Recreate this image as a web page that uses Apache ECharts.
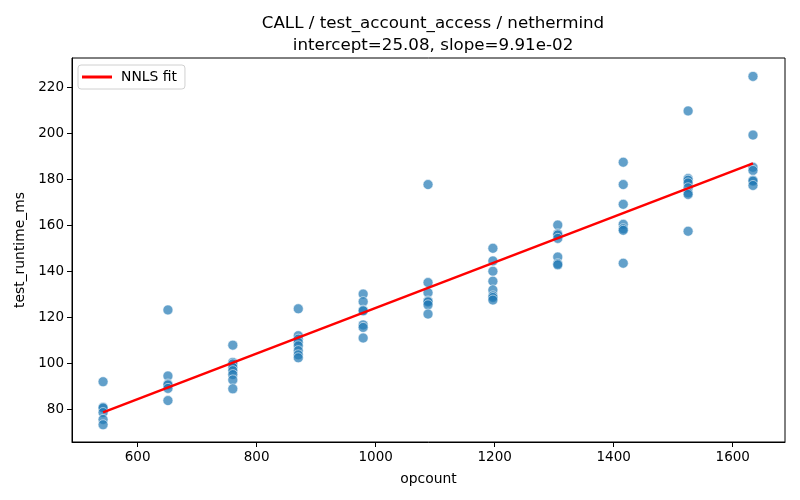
<!DOCTYPE html>
<html>
<head>
<meta charset="utf-8">
<script src="https://cdn.jsdelivr.net/npm/echarts@6/dist/echarts.min.js"></script>
<style>
  html, body { margin: 0; padding: 0; background: #fff; }
  #main { width: 800px; height: 500px; }
</style>
</head>
<body>
<div id="main"></div>
<script>
// opcount columns and the measured runtimes at each one
var opcounts = [542, 651, 760, 870, 979, 1088, 1197, 1306, 1416, 1525, 1634];
var runtimes = [
  [92.1, 81.0, 80.7, 78.7, 75.7, 73.4],
  [123.3, 94.6, 91.1, 90.7, 89.2, 83.9],
  [108.0, 100.5, 99.8, 98.3, 96.9, 95.2, 92.9, 89.0],
  [123.8, 112.1, 110.6, 109.2, 107.7, 105.6, 103.8, 102.5],
  [130.2, 126.9, 123.2, 122.9, 116.8, 115.7, 111.1],
  [177.8, 135.2, 130.8, 127.2, 126.8, 125.5, 121.5],
  [150.1, 144.6, 140.1, 135.8, 132.0, 129.4, 128.7, 127.6],
  [160.2, 156.4, 155.9, 154.4, 146.3, 143.4, 142.9],
  [187.5, 177.8, 169.2, 160.5, 158.6, 157.9, 143.6],
  [209.8, 180.4, 179.7, 178.5, 176.4, 174.2, 173.5, 157.5],
  [224.8, 199.3, 185.3, 183.9, 179.7, 179.3, 177.4]
];
// NNLS fit line end points
var fitX = [542, 1634];
var fitY = [78.8, 187.0];

var titleText = 'CALL / test_account_access / nethermind\nintercept=25.08, slope=9.91e-02';

var points = [];
opcounts.forEach(function (x, i) {
  runtimes[i].forEach(function (y) { points.push([x, y]); });
});
var fitLine = fitX.map(function (x, i) { return [x, fitY[i]]; });

var font = 'DejaVu Sans';
var plain = function (v) { return String(v); };
var myChart = echarts.init(document.getElementById('main'));
myChart.setOption({
  animation: false,
  textStyle: { fontFamily: font },
  title: {
    text: titleText,
    left: 428,
    top: 8,
    textAlign: 'center',
    textStyle: { fontFamily: font, fontSize: 16.7, fontWeight: 'normal', color: '#000', lineHeight: 22 }
  },
  legend: {
    left: 78,
    top: 65,
    padding: [5, 8, 5, 4],
    itemWidth: 30,
    itemHeight: 3,
    itemGap: 8,
    borderColor: '#d0d0d0',
    borderWidth: 1,
    borderRadius: 3,
    backgroundColor: '#fff',
    textStyle: { fontFamily: font, fontSize: 13.9, color: '#000', padding: [0, 0, 0, 4] },
    data: [{ name: 'NNLS fit', icon: 'rect' }]
  },
  grid: {
    left: 72, right: 15, top: 58, bottom: 58,
    show: true, borderColor: '#000', borderWidth: 1, backgroundColor: 'transparent'
  },
  xAxis: {
    type: 'value',
    min: 489.8,
    max: 1687.8,
    splitNumber: 6,
    name: 'opcount',
    nameLocation: 'middle',
    nameGap: 30,
    nameTextStyle: { fontFamily: font, fontSize: 13.9, color: '#000' },
    axisLine: { show: true, lineStyle: { color: '#000', width: 1 } },
    axisTick: { show: true, length: 5, lineStyle: { color: '#000' } },
    axisLabel: { showMinLabel: false, showMaxLabel: false, fontSize: 13.5, color: '#000', margin: 8, formatter: plain },
    splitLine: { show: false }
  },
  yAxis: {
    type: 'value',
    min: 65.9,
    max: 232.8,
    splitNumber: 8,
    name: 'test_runtime_ms',
    nameLocation: 'middle',
    nameGap: 44,
    nameTextStyle: { fontFamily: font, fontSize: 13.9, color: '#000' },
    axisLine: { show: true, lineStyle: { color: '#000', width: 1 } },
    axisTick: { show: true, length: 5, lineStyle: { color: '#000' } },
    axisLabel: { showMinLabel: false, showMaxLabel: false, fontSize: 13.5, color: '#000', margin: 8, formatter: plain },
    splitLine: { show: false }
  },
  series: [
    {
      name: 'runtime',
      type: 'scatter',
      data: points,
      symbolSize: 10,
      itemStyle: { color: '#1f77b4', opacity: 0.7, borderColor: '#fff', borderWidth: 0.8 },
      z: 2
    },
    {
      name: 'NNLS fit',
      type: 'line',
      data: fitLine,
      symbol: 'none',
      lineStyle: { color: '#ff0000', width: 2.5 },
      itemStyle: { color: '#ff0000' },
      z: 3
    }
  ]
});
</script>
</body>
</html>
